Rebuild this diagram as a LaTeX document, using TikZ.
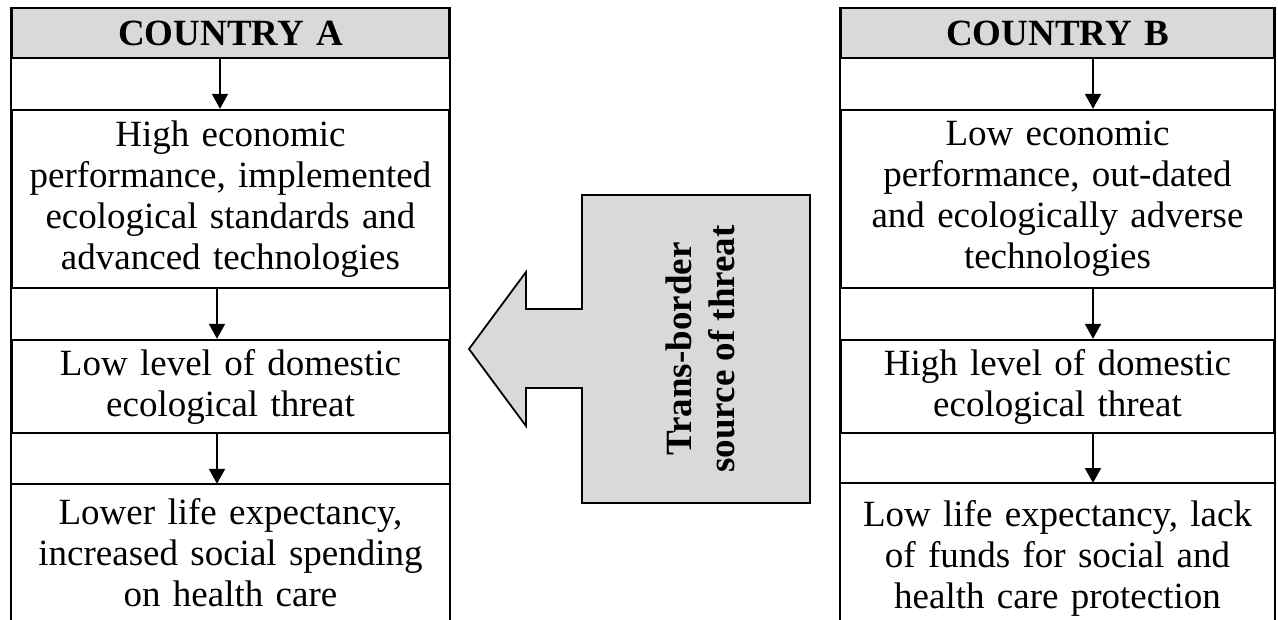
\documentclass[tikz,border=0pt]{standalone}
\usepackage{fontspec}
\setmainfont{Liberation Serif}
\usetikzlibrary{arrows.meta}
\definecolor{boxgray}{HTML}{D9D9D9}
\begin{document}
\begin{tikzpicture}[x=1pt,y=-1pt,
  txt/.style={font=\fontsize{37}{41}\selectfont},
  cellA/.style={txt, draw, line width=2.4pt, inner sep=0pt, align=center, text width=437pt},
  cellB/.style={txt, draw, line width=2.4pt, inner sep=0pt, align=center, text width=433pt},
  head/.style={fill=boxgray, font=\bfseries\fontsize{37}{41}\selectfont, minimum height=50pt},
  open/.style={draw=none},
  frame/.style={line width=2.4pt},
  arr/.style={line width=2pt, -{Triangle[width=16pt,length=15pt]}},
  bigarrow/.style={draw, line width=1.8pt, fill=boxgray}]
\useasboundingbox (0,0) rectangle (1278,619);
\clip (0,0) rectangle (1278,619);

% ---------- Country A ----------
\node[cellA, head] (hA) at (230.5,33) {COUNTRY A};
\node[cellA, minimum height=178pt] (b1A) at (230.5,199)
  {High economic\\performance, implemented\\ecological standards and\\advanced technologies};
\node[cellA, minimum height=93pt] (b2A) at (230.5,386.5)
  {Low level of domestic\\ecological threat};
\node[cellA, open, minimum height=136pt] (b3A) at (230.5,553)
  {Lower life expectancy,\\increased social spending\\on health care};
\draw[frame] (hA.north west) -- (b3A.south west);
\draw[frame] (hA.north east) -- (b3A.south east);
\draw[frame] (b3A.north west) -- (b3A.north east);

\draw[arr] ([xshift=-10.5pt]hA.south) -- ([xshift=-10.5pt]b1A.north);
\draw[arr] ([xshift=-13.5pt]b1A.south) -- ([xshift=-13.5pt]b2A.north);
\draw[arr] ([xshift=-13.5pt]b2A.south) -- ([xshift=-13.5pt]b3A.north);

% ---------- Country B ----------
\node[cellB, head] (hB) at (1057.5,33) {COUNTRY B};
\node[cellB, minimum height=178pt] (b1B) at (1057.5,199)
  {Low economic\\performance, out-dated\\and ecologically adverse\\technologies};
\node[cellB, minimum height=93pt] (b2B) at (1057.5,386.5)
  {High level of domestic\\ecological threat};
\node[cellB, open, minimum height=136pt] (b3B) at (1057.5,558)
  {Low life expectancy, lack\\of funds for social and\\health care protection};
\coordinate (b3Bnw) at (841,483);
\coordinate (b3Bne) at (1274,483);
\draw[frame] (hB.north west) -- (hB.north west |- b3B.south);
\draw[frame] (hB.north east) -- (hB.north east |- b3B.south);
\draw[frame] (b3Bnw) -- (b3Bne);

\draw[arr] ([xshift=35.5pt]hB.south) -- ([xshift=35.5pt]b1B.north);
\draw[arr] ([xshift=35.5pt]b1B.south) -- ([xshift=35.5pt]b2B.north);
\path ([xshift=35.5pt]b2B.south) coordinate (s3B);
\draw[arr] (s3B) -- (s3B |- b3Bnw);

% ---------- Trans-border arrow ----------
\draw[bigarrow] (582,195) -- (810,195) -- (810,503) -- (582,503) -- (582,388)
  -- (526,388) -- (526,426) -- (469,349) -- (526,272) -- (526,309) -- (582,309) -- cycle;
\node[rotate=90, align=center, inner sep=0pt, font=\bfseries\fontsize{37}{43}\selectfont] (tb) at (700,349)
  {Trans-border\\source of threat};
\end{tikzpicture}
\end{document}
